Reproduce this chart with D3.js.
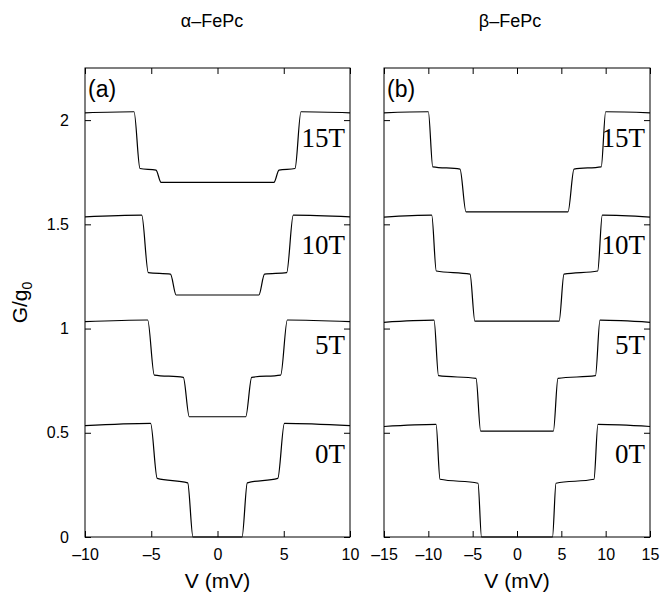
<!DOCTYPE html>
<html>
<head>
<meta charset="utf-8">
<script src="https://cdn.jsdelivr.net/npm/d3@7"></script>
<style>
  body { margin: 0; background: #fff; }
  svg { display: block; }
</style>
</head>
<body>
<svg id="chart" width="662" height="595"></svg>
<script>
// field labels drawn next to each curve
const fieldLabels = ['0T', '5T', '10T', '15T'];

// panel (a) alpha-FePc, [V (mV), G/g0] breakpoints
const alpha0T = [[-10, 0.534], [-5.05, 0.545], [-4.55, 0.281], [-2.25, 0.26], [-1.85, 0], [1.85, 0], [2.25, 0.26], [4.55, 0.281], [5.05, 0.545], [10, 0.534]];
const alpha5T = [[-10, 1.033], [-5.27, 1.041], [-4.77, 0.777], [-2.58, 0.766], [-2.13, 0.577], [2.13, 0.577], [2.58, 0.766], [4.77, 0.777], [5.27, 1.041], [10, 1.033]];
const alpha10T = [[-10, 1.536], [-5.72, 1.544], [-5.22, 1.268], [-3.55, 1.261], [-3.12, 1.161], [3.12, 1.161], [3.55, 1.261], [5.22, 1.268], [5.72, 1.544], [10, 1.536]];
const alpha15T = [[-10, 2.035], [-6.3, 2.04], [-5.85, 1.768], [-4.64, 1.76], [-4.26, 1.701], [4.26, 1.701], [4.64, 1.76], [5.85, 1.768], [6.3, 2.04], [10, 2.035]];

// panel (b) beta-FePc
const beta0T = [[-15, 0.53], [-9.13, 0.54], [-8.68, 0.277], [-4.4, 0.258], [-4.0, 0], [4.0, 0], [4.4, 0.258], [8.68, 0.277], [9.13, 0.54], [15, 0.53]];
const beta5T = [[-15, 1.03], [-9.36, 1.04], [-8.85, 0.774], [-4.62, 0.761], [-4.1, 0.508], [4.1, 0.508], [4.62, 0.761], [8.85, 0.774], [9.36, 1.04], [15, 1.03]];
const beta10T = [[-15, 1.535], [-9.62, 1.544], [-9.1, 1.276], [-5.3, 1.261], [-4.75, 1.036], [4.75, 1.036], [5.3, 1.261], [9.1, 1.276], [9.62, 1.544], [15, 1.535]];
const beta15T = [[-15, 2.035], [-10.0, 2.04], [-9.5, 1.776], [-6.43, 1.765], [-5.75, 1.56], [5.75, 1.56], [6.43, 1.765], [9.5, 1.776], [10.0, 2.04], [15, 2.035]];

// baseline height (G/g0) of each field label
const labelG = [0.355, 0.878, 1.36, 1.871];

const yTicks = [0, 0.5, 1, 1.5, 2];
const alphaTicks = [-10, -5, 0, 5, 10];
const betaTicks = [-15, -10, -5, 0, 5, 10, 15];

const svg = d3.select('#chart');
const plotTop = 68, plotBottom = 537;

const y = d3.scaleLinear().domain([0, 2.25]).range([plotBottom, plotTop]);

const panels = [
    { x0: 85, x1: 350, domain: [-10, 10], ticks: alphaTicks, curves: [alpha0T, alpha5T, alpha10T, alpha15T], tag: '(a)', title: '\u03b1\u2013FePc', titleX: 212, showY: true },
    { x0: 384, x1: 650, domain: [-15, 15], ticks: betaTicks, curves: [beta0T, beta5T, beta10T, beta15T], tag: '(b)', title: '\u03b2\u2013FePc', titleX: 510, showY: false }
];

const fmt = d => d3.format('')(d).replace(/[-\u2212]/, '\u2013');

panels.forEach(p => {
    const x = d3.scaleLinear().domain(p.domain).range([p.x0, p.x1]);
    const g = svg.append('g');

    // curves
    const line = d3.line()
        .x(d => x(d[0]))
        .y(d => y(d[1]))
        .curve(d3.curveMonotoneX);

    p.curves.forEach(c => {
        g.append('path')
            .datum(c)
            .attr('fill', 'none')
            .attr('stroke', '#000')
            .attr('stroke-width', 1.2)
            .attr('d', line);
    });

    // axes, ticks pointing inward on all four sides
    g.append('g')
        .attr('transform', `translate(0,${plotBottom})`)
        .call(d3.axisBottom(x).tickValues(p.ticks).tickSizeInner(-6).tickSizeOuter(0).tickPadding(12).tickFormat(fmt));
    g.append('g')
        .attr('transform', `translate(0,${plotTop})`)
        .call(d3.axisTop(x).tickValues(p.ticks).tickSizeInner(-6).tickSizeOuter(0).tickFormat(''));
    g.append('g')
        .attr('transform', `translate(${p.x0},0)`)
        .call(d3.axisLeft(y).tickValues(yTicks).tickSizeInner(-6).tickSizeOuter(0).tickPadding(16).tickFormat(p.showY ? d3.format('') : ''));
    g.append('g')
        .attr('transform', `translate(${p.x1},0)`)
        .call(d3.axisRight(y).tickValues(yTicks).tickSizeInner(-6).tickSizeOuter(0).tickFormat(''));

    g.selectAll('.domain').remove();
    g.selectAll('.tick line').attr('stroke', '#000');
    g.selectAll('.tick text')
        .attr('font-family', 'Liberation Sans, Arial, sans-serif')
        .attr('font-size', 16)
        .attr('fill', '#000');

    g.append('rect')
        .attr('x', p.x0).attr('y', plotTop)
        .attr('width', p.x1 - p.x0).attr('height', plotBottom - plotTop)
        .attr('fill', 'none').attr('stroke', '#000').attr('stroke-width', 1);

    // panel tag
    g.append('text')
        .attr('x', p.x0 + 3).attr('y', 97)
        .attr('font-family', 'Liberation Sans, Arial, sans-serif')
        .attr('font-size', 23)
        .text(p.tag);

    // field labels
    fieldLabels.forEach((t, i) => {
        g.append('text')
            .attr('x', p.x1 - 5).attr('y', y(labelG[i]))
            .attr('text-anchor', 'end')
            .attr('font-family', 'Liberation Serif, Times New Roman, serif')
            .attr('font-size', 27)
            .text(t);
    });

    // title
    g.append('text')
        .attr('x', p.titleX).attr('y', 27)
        .attr('text-anchor', 'middle')
        .attr('font-family', 'Liberation Sans, Arial, sans-serif')
        .attr('font-size', 18)
        .text(p.title);

    // x label
    g.append('text')
        .attr('x', (p.x0 + p.x1) / 2).attr('y', 588)
        .attr('text-anchor', 'middle')
        .attr('font-family', 'Liberation Sans, Arial, sans-serif')
        .attr('font-size', 21)
        .text('V (mV)');
});

// y label
const yl = svg.append('text')
    .attr('transform', `translate(27,${(plotTop + plotBottom) / 2}) rotate(-90)`)
    .attr('text-anchor', 'middle')
    .attr('font-family', 'Liberation Sans, Arial, sans-serif')
    .attr('font-size', 21);
yl.append('tspan').text('G/g');
yl.append('tspan').attr('font-size', 14).attr('dy', 5).text('0');
</script>
</body>
</html>
